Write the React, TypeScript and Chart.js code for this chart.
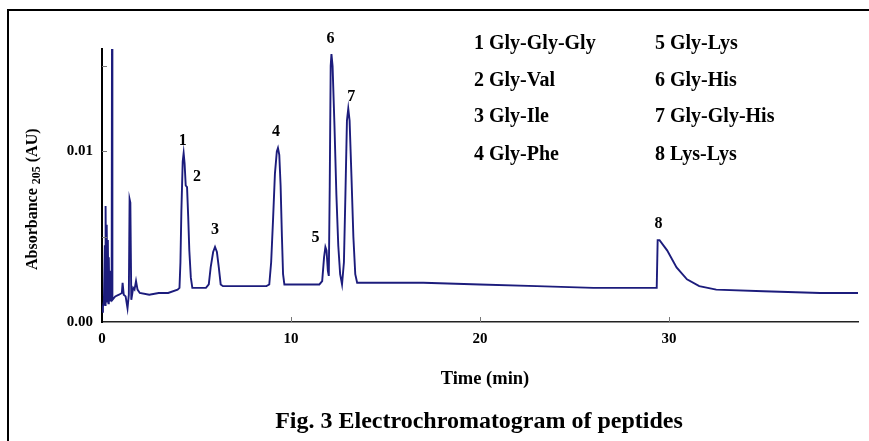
import React, { useEffect, useRef } from 'react';
import { Chart, registerables } from 'chart.js';

Chart.register(...registerables);

// ---- data ----
const times = [
  0.0, 0.05, 0.1, 0.15, 0.17, 0.19, 0.22, 0.25, 0.28, 0.31, 0.34, 0.36, 0.39, 0.42, 0.45, 0.48, 0.51,
  0.53, 0.55, 0.7, 0.9, 1.05, 1.09, 1.15, 1.25, 1.35, 1.42, 1.46, 1.5, 1.55, 1.65, 1.72, 1.8, 1.88,
  2.0, 2.5, 3.0, 3.5, 4.0, 4.1,
  4.15, 4.2, 4.27, 4.32, 4.37, 4.43, 4.5, 4.56, 4.62, 4.7, 4.78, 5.0, 5.5,
  5.65, 5.75, 5.88, 5.98, 6.08, 6.18, 6.28, 6.4, 7.0, 8.0, 8.7,
  8.85, 8.95, 9.05, 9.15, 9.25, 9.31, 9.38, 9.45, 9.52, 9.58, 9.65, 10.5, 11.5,
  11.65, 11.75, 11.82, 11.88, 11.95, 12.0,
  12.05, 12.1, 12.14, 12.2, 12.3, 12.4, 12.5, 12.6, 12.7,
  12.8, 12.88, 12.96, 13.03, 13.1, 13.2, 13.3, 13.4, 13.5,
  15.0, 17.0, 20.0, 23.0, 26.0, 29.2, 29.35,
  29.4, 29.5, 29.9, 30.4, 30.95, 31.6, 32.5, 35.0, 38.0, 40.0,
];
const absorbance = [
  0.0006, 0.0009, 0.0012, 0.0045, 0.001, 0.0068, 0.0015, 0.0057, 0.0012, 0.0048, 0.0011, 0.0038, 0.0013, 0.003, 0.0012, 0.002, 0.0013,
  0.0175, 0.0013, 0.0015, 0.0016, 0.0017, 0.0023, 0.0016, 0.0015, 0.0008, 0.0016, 0.0072, 0.007, 0.0013, 0.002, 0.0019, 0.0024, 0.0019,
  0.0017, 0.0016, 0.0017, 0.0017, 0.0019, 0.002,
  0.0035, 0.0065, 0.0094, 0.0099, 0.0093, 0.008, 0.0079, 0.0062, 0.0042, 0.0026, 0.002, 0.002, 0.002,
  0.0022, 0.0032, 0.0041, 0.0044, 0.0041, 0.0032, 0.0022, 0.0021, 0.0021, 0.0021, 0.0021,
  0.0022, 0.0035, 0.006, 0.0087, 0.01, 0.0102, 0.0098, 0.008, 0.005, 0.0028, 0.0022, 0.0022, 0.0022,
  0.0024, 0.0038, 0.0044, 0.0042, 0.003, 0.0027,
  0.008, 0.015, 0.0157, 0.015, 0.0115, 0.0075, 0.0045, 0.0028, 0.0022,
  0.0035, 0.0075, 0.0118, 0.0125, 0.0118, 0.0085, 0.005, 0.0028, 0.0023,
  0.0023, 0.0023, 0.0022, 0.0021, 0.002, 0.002, 0.002,
  0.0048, 0.0048, 0.0042, 0.0032, 0.0025, 0.0021, 0.0019, 0.0018, 0.0017, 0.0017,
];

const peakNumbers = ['1', '2', '3', '4', '5', '6', '7', '8'];
const peakTimes = [4.32, 4.5, 5.98, 9.31, 11.82, 12.14, 13.03, 29.45];
const peakHeights = [0.0099, 0.0079, 0.0044, 0.0102, 0.0044, 0.0157, 0.0125, 0.0048];

const legendLabels = [
  '1 Gly-Gly-Gly', '2 Gly-Val', '3 Gly-Ile', '4 Gly-Phe',
  '5 Gly-Lys', '6 Gly-His', '7 Gly-Gly-His', '8 Lys-Lys',
];

const xTickValues = [0, 10, 20, 30];
const xTickLabels = ['0', '10', '20', '30'];
const yTickValues = [0, 0.005, 0.01, 0.015];
const yTickLabels = ['0.00', '', '0.01', ''];

const xTitle = 'Time (min)';
const yTitleMain = 'Absorbance';
const yTitleSub = '205';
const yTitleEnd = ' (AU)';
const figTitle = 'Fig. 3 Electrochromatogram of peptides';

// ---- styling / placement ----
const SERIF = '"Liberation Serif", "Times New Roman", serif';
const LINE_COLOR = '#1c1c7c';
const labelOffsets: [number, number][] = [
  [-1, -12], [10, -10], [0, -17], [-2, -16], [-10, -9], [-1, -15], [3, -12], [0, -16],
];
const legendCols = [474, 655];
const legendRows = [43.5, 81, 117, 155];

const overlayPlugin = {
  id: 'overlay',
  afterDraw(chart: any) {
    const ctx = chart.ctx as CanvasRenderingContext2D;
    const xs = chart.scales.x;
    const ys = chart.scales.y;
    const area = chart.chartArea;
    ctx.save();

    // outer frame (top and left edges)
    ctx.strokeStyle = '#000';
    ctx.lineWidth = 2;
    ctx.beginPath();
    ctx.moveTo(869, 10);
    ctx.lineTo(8, 10);
    ctx.lineTo(8, 441);
    ctx.stroke();

    // inner tick marks
    ctx.strokeStyle = '#777';
    ctx.lineWidth = 1;
    ctx.beginPath();
    yTickValues.forEach((v) => {
      if (v === 0) return;
      const py = Math.round(ys.getPixelForValue(v)) + 0.5;
      ctx.moveTo(area.left, py);
      ctx.lineTo(area.left + 5, py);
    });
    xTickValues.forEach((v) => {
      if (v === 0) return;
      const px = Math.round(xs.getPixelForValue(v)) + 0.5;
      ctx.moveTo(px, area.bottom);
      ctx.lineTo(px, area.bottom - 5);
    });
    ctx.stroke();

    // peak numbers
    ctx.fillStyle = '#000';
    ctx.font = `bold 16px ${SERIF}`;
    ctx.textAlign = 'center';
    ctx.textBaseline = 'middle';
    peakNumbers.forEach((n, i) => {
      const px = xs.getPixelForValue(peakTimes[i]) + labelOffsets[i][0];
      const py = ys.getPixelForValue(peakHeights[i]) + labelOffsets[i][1];
      ctx.fillText(n, px, py);
    });

    // legend text
    ctx.font = `bold 20px ${SERIF}`;
    ctx.textAlign = 'left';
    legendLabels.forEach((t, i) => {
      const col = Math.floor(i / 4);
      const row = i % 4;
      ctx.fillText(t, legendCols[col], legendRows[row]);
    });

    // x title
    ctx.font = `bold 18.5px ${SERIF}`;
    ctx.textAlign = 'center';
    ctx.textBaseline = 'alphabetic';
    ctx.fillText(xTitle, 485, 384);

    // figure title
    ctx.font = `bold 24px ${SERIF}`;
    ctx.fillText(figTitle, 479, 428);

    // y title (rotated, with subscript)
    ctx.translate(33, 270);
    ctx.rotate(-Math.PI / 2);
    ctx.textAlign = 'left';
    ctx.textBaseline = 'middle';
    ctx.font = `bold 16px ${SERIF}`;
    let cx = 0;
    ctx.fillText(yTitleMain, cx, 0);
    cx += ctx.measureText(yTitleMain).width + 4;
    ctx.font = `bold 12px ${SERIF}`;
    ctx.fillText(yTitleSub, cx, 4);
    cx += ctx.measureText(yTitleSub).width;
    ctx.font = `bold 16px ${SERIF}`;
    ctx.fillText(yTitleEnd, cx, 0);

    ctx.restore();
  },
};

export default function App() {
  const canvasRef = useRef<HTMLCanvasElement | null>(null);

  useEffect(() => {
    if (!canvasRef.current) return;
    const points = times.map((t, i) => ({ x: t, y: absorbance[i] }));
    const chart = new Chart(canvasRef.current, {
      type: 'line',
      data: {
        datasets: [
          {
            data: points,
            borderColor: LINE_COLOR,
            borderWidth: 1.9,
            pointRadius: 0,
            tension: 0,
            fill: false,
          },
        ],
      },
      options: {
        responsive: false,
        animation: false,
        layout: { padding: { left: 0, top: 49, right: 11, bottom: 0 } },
        plugins: {
          legend: { display: false },
          tooltip: { enabled: false },
          title: { display: false },
        },
        scales: {
          x: {
            type: 'linear',
            min: 0,
            max: 40,
            afterBuildTicks: (scale: any) => {
              scale.ticks = xTickValues.map((v) => ({ value: v }));
            },
            afterFit: (scale: any) => {
              scale.height = 119;
            },
            ticks: {
              padding: 8,
              color: '#000',
              font: { family: SERIF, size: 15, weight: 'bold' },
              maxRotation: 0,
              callback: (v: any) => {
                const i = xTickValues.indexOf(Number(v));
                return i >= 0 ? xTickLabels[i] : '';
              },
            },
            grid: { display: true, drawOnChartArea: false, drawTicks: false },
            border: { display: true, color: '#222', width: 1.5 },
          },
          y: {
            type: 'linear',
            min: 0,
            max: 0.016,
            afterBuildTicks: (scale: any) => {
              scale.ticks = yTickValues.map((v) => ({ value: v }));
            },
            afterFit: (scale: any) => {
              scale.width = 102;
            },
            ticks: {
              padding: 9,
              color: '#000',
              font: { family: SERIF, size: 15, weight: 'bold' },
              callback: (v: any) => {
                const i = yTickValues.findIndex((t) => Math.abs(t - Number(v)) < 1e-9);
                return i >= 0 ? yTickLabels[i] : '';
              },
            },
            grid: { display: true, drawOnChartArea: false, drawTicks: false },
            border: { display: true, color: '#000', width: 2 },
          },
        },
      },
      plugins: [overlayPlugin],
    } as any);
    return () => chart.destroy();
  }, []);

  return (
    <div style={{ position: 'fixed', left: 0, top: 0, width: 869, height: 441, background: '#fff' }}>
      <canvas ref={canvasRef} width={869} height={441} style={{ display: 'block' }} />
    </div>
  );
}
